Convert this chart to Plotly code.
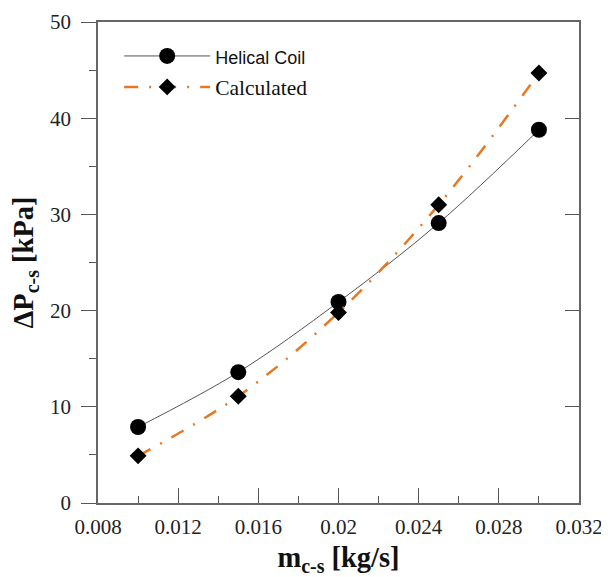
import plotly.graph_objects as go

mass_flow = [0.010, 0.015, 0.020, 0.025, 0.030]
helical_coil = [7.9, 13.6, 20.9, 29.1, 38.8]
calculated = [4.9, 11.1, 19.8, 31.0, 44.7]

x_tickvals = [0.008, 0.012, 0.016, 0.020, 0.024, 0.028, 0.032]
x_ticktext = ["0.008", "0.012", "0.016", "0.02", "0.024", "0.028", "0.032"]
y_tickvals = [0, 10, 20, 30, 40, 50]

fig = go.Figure()
fig.add_trace(go.Scatter(
    x=mass_flow, y=helical_coil, mode="lines+markers",
    name='<span style="font-family:Arial;font-size:18px">Helical Coil</span>',
    line=dict(color="#555555", width=1, shape="spline"),
    marker=dict(symbol="circle", size=16, color="black"),
))
fig.add_trace(go.Scatter(
    x=mass_flow, y=calculated, mode="lines+markers",
    name="Calculated",
    line=dict(color="#E87722", width=2.5, shape="spline", dash="14px,11px,2px,11px"),
    marker=dict(symbol="diamond", size=13, color="black"),
))
# helper trace for right axis
fig.add_trace(go.Scatter(x=[None], y=[None], yaxis="y2", showlegend=False,
                         hoverinfo="skip", mode="markers"))

axis_font = dict(family="Liberation Serif", size=21, color="#222222")
title_font = dict(family="Liberation Serif", size=28.5, color="#111111")
fig.update_layout(
    width=609, height=577,
    margin=dict(l=90, r=38, t=14, b=82),
    plot_bgcolor="white", paper_bgcolor="white",
    showlegend=True,
    legend=dict(x=0.044, y=0.972, xanchor="left", yanchor="top",
                bgcolor="rgba(0,0,0,0)", font=dict(family="Liberation Serif", size=21.5, color="#111111"),
                itemwidth=86),
    xaxis=dict(
        range=[0.008, 0.032], tickvals=x_tickvals, ticktext=x_ticktext,
        ticks="inside", ticklen=15, tickcolor="#555555", tickwidth=1,
        minor=dict(dtick=0.002, tick0=0.008, ticks="inside", ticklen=7, tickcolor="#555555", tickwidth=1),
        showline=True, linecolor="#666666", linewidth=1.5, mirror=True, automargin=False,
        showgrid=False, zeroline=False, tickfont=axis_font, ticklabelstandoff=4,
        title=dict(text="<b>m<sub>c-s</sub> [kg/s]</b>", font=title_font, standoff=9),
    ),
    yaxis=dict(
        range=[0, 50], tickvals=y_tickvals,
        ticks="outside", ticklen=15, tickcolor="#555555", tickwidth=1,
        minor=dict(dtick=5, ticks="outside", ticklen=7, tickcolor="#555555", tickwidth=1),
        showline=True, linecolor="#666666", linewidth=1.5, mirror=True, automargin=False,
        showgrid=False, zeroline=False, tickfont=axis_font, ticklabelstandoff=6,
        title=dict(text="<b>ΔP<sub>c-s</sub> [kPa]</b>", font=title_font, standoff=8),
    ),
    yaxis2=dict(
        range=[0, 50], overlaying="y", side="right", tickvals=y_tickvals, automargin=False,
        ticks="inside", ticklen=14, tickcolor="#555555", tickwidth=1,
        showticklabels=False, showgrid=False, zeroline=False, showline=False,
    ),
)

fig.write_html("out.html")
